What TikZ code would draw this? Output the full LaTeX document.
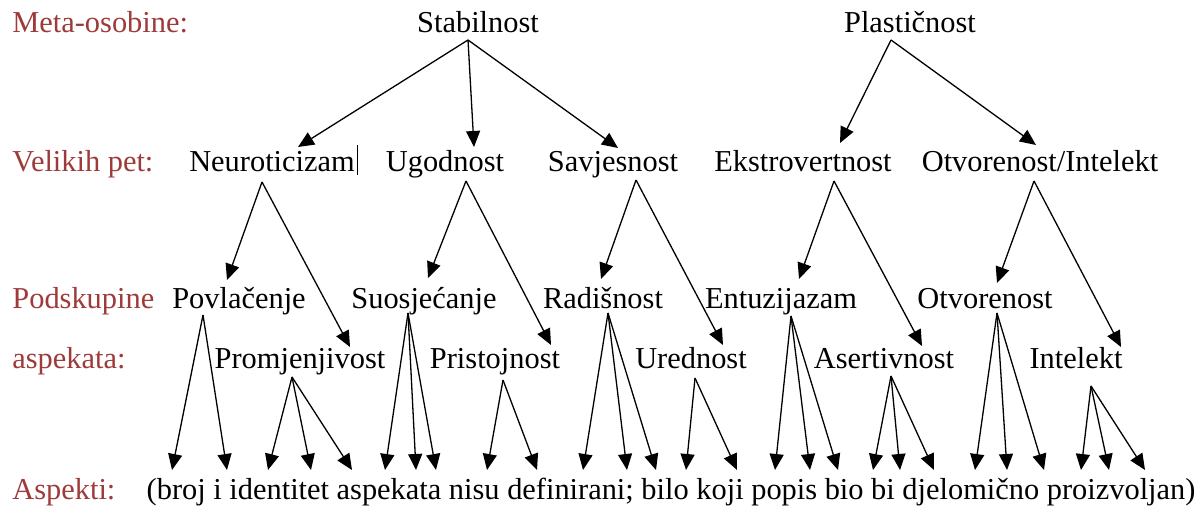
\documentclass[tikz,border=0pt]{standalone}
\usepackage{fontspec}
\setmainfont{Liberation Serif}
\usetikzlibrary{arrows.meta,calc}
\definecolor{lblred}{RGB}{158,58,58}
\begin{document}
\begin{tikzpicture}[x=0.5pt,y=-0.5pt,
  txt/.style={inner sep=0pt,anchor=base,font=\fontsize{15.2}{18}\selectfont},
  lbl/.style={inner sep=0pt,anchor=base west,font=\fontsize{15.2}{18}\selectfont,text=lblred},
  arr/.style={line width=0.65pt,-{Triangle[length=8pt,width=7pt]}}]
\useasboundingbox (0,0) rectangle (1203,507);
% labels
\node[lbl] (l1) at (12,33) {Meta-osobine:};
\node[lbl] (l2) at (12,172) {Velikih pet:};
\node[lbl] (l3) at (12,308) {Podskupine};
\node[lbl] (l4) at (12,368) {aspekata:};
\node[lbl] (l5) at (12,499) {Aspekti:};
% meta traits
\node[txt] (stab) at (478,33) {Stabilnost};
\node[txt] (plas) at (910,33) {Plastičnost};
% big five
\node[txt] (neur) at (272,172) {Neuroticizam};
\node[txt] (ugod) at (445,172) {Ugodnost};
\node[txt] (savj) at (613,172) {Savjesnost};
\node[txt] (ekst) at (803,172) {Ekstrovertnost};
\node[txt] (otvi) at (1040,172) {Otvorenost/Intelekt};
% aspects row 1
\node[txt] (povl) at (239,308) {Povlačenje};
\node[txt] (suos) at (424,308) {Suosjećanje};
\node[txt] (radi) at (603,308) {Radišnost};
\node[txt] (entu) at (781,308) {Entuzijazam};
\node[txt] (otvo) at (985,308) {Otvorenost};
% aspects row 2
\node[txt] (prom) at (300,368) {Promjenjivost};
\node[txt] (pris) at (495,368) {Pristojnost};
\node[txt] (ured) at (691,368) {Urednost};
\node[txt] (aser) at (884,368) {Asertivnost};
\node[txt] (inte) at (1076,368) {Intelekt};
% facets
\node[txt] (asp) at (671,499) {(broj i identitet aspekata nisu definirani; bilo koji popis bio bi djelomično proizvoljan)};
% cursor bar
\draw[line width=0.6pt] ($(neur.base east)+(2,3)$) -- ++(0,-30);
% meta -> big five
\draw[arr] ($(stab.base)+(-10,7)$) -- ($(neur.base)+(26,-25)$);
\draw[arr] ($(stab.base)+(-10,7)$) -- ($(ugod.base)+(29,-25)$);
\draw[arr] ($(stab.base)+(-10,7)$) -- ($(savj.base)+(5,-24)$);
\draw[arr] ($(plas.base)+(-19,7)$) -- ($(ekst.base)+(37,-29)$);
\draw[arr] ($(plas.base)+(-19,7)$) -- ($(otvi.base)+(-4,-27)$);
% big five -> aspects
\draw[arr] ($(neur.base)+(-10,10)$) -- ($(povl.base)+(-12,-28)$);
\draw[arr] ($(neur.base)+(-10,10)$) -- ($(prom.base)+(50,-21)$);
\draw[arr] ($(ugod.base)+(21,9)$) -- ($(suos.base)+(4,-30)$);
\draw[arr] ($(ugod.base)+(21,9)$) -- ($(pris.base)+(56,-23)$);
\draw[arr] ($(savj.base)+(23,8)$) -- ($(radi.base)+(-2,-29)$);
\draw[arr] ($(savj.base)+(23,8)$) -- ($(ured.base)+(32,-23)$);
\draw[arr] ($(ekst.base)+(31,9)$) -- ($(entu.base)+(18,-29)$);
\draw[arr] ($(ekst.base)+(31,9)$) -- ($(aser.base)+(38,-22)$);
\draw[arr] ($(otvi.base)+(-6,9)$) -- ($(otvo.base)+(12,-25)$);
\draw[arr] ($(otvi.base)+(-6,9)$) -- ($(inte.base)+(45,-21)$);
% aspects -> facets
\foreach \t in {-499,-444} \draw[arr] ($(povl.base)+(-36,7)$) -- ($(asp.base)+(\t,-29)$);
\foreach \t in {-403,-360,-319} \draw[arr] ($(prom.base)+(-8,9)$) -- ($(asp.base)+(\t,-29)$);
\foreach \t in {-286,-255,-235} \draw[arr] ($(suos.base)+(-16,5)$) -- ($(asp.base)+(\t,-29)$);
\foreach \t in {-184,-134} \draw[arr] ($(pris.base)+(8,12)$) -- ($(asp.base)+(\t,-29)$);
\foreach \t in {-88,-44,-15} \draw[arr] ($(radi.base)+(5,5)$) -- ($(asp.base)+(\t,-29)$);
\foreach \t in {15,66} \draw[arr] ($(ured.base)+(4,10)$) -- ($(asp.base)+(\t,-29)$);
\foreach \t in {104,139,167} \draw[arr] ($(entu.base)+(10,8)$) -- ($(asp.base)+(\t,-29)$);
\foreach \t in {202,229,263} \draw[arr] ($(aser.base)+(7,8)$) -- ($(asp.base)+(\t,-29)$);
\foreach \t in {304,336,373} \draw[arr] ($(otvo.base)+(12,5)$) -- ($(asp.base)+(\t,-29)$);
\foreach \t in {410,438,474} \draw[arr] ($(inte.base)+(15,18)$) -- ($(asp.base)+(\t,-29)$);
\end{tikzpicture}
\end{document}
